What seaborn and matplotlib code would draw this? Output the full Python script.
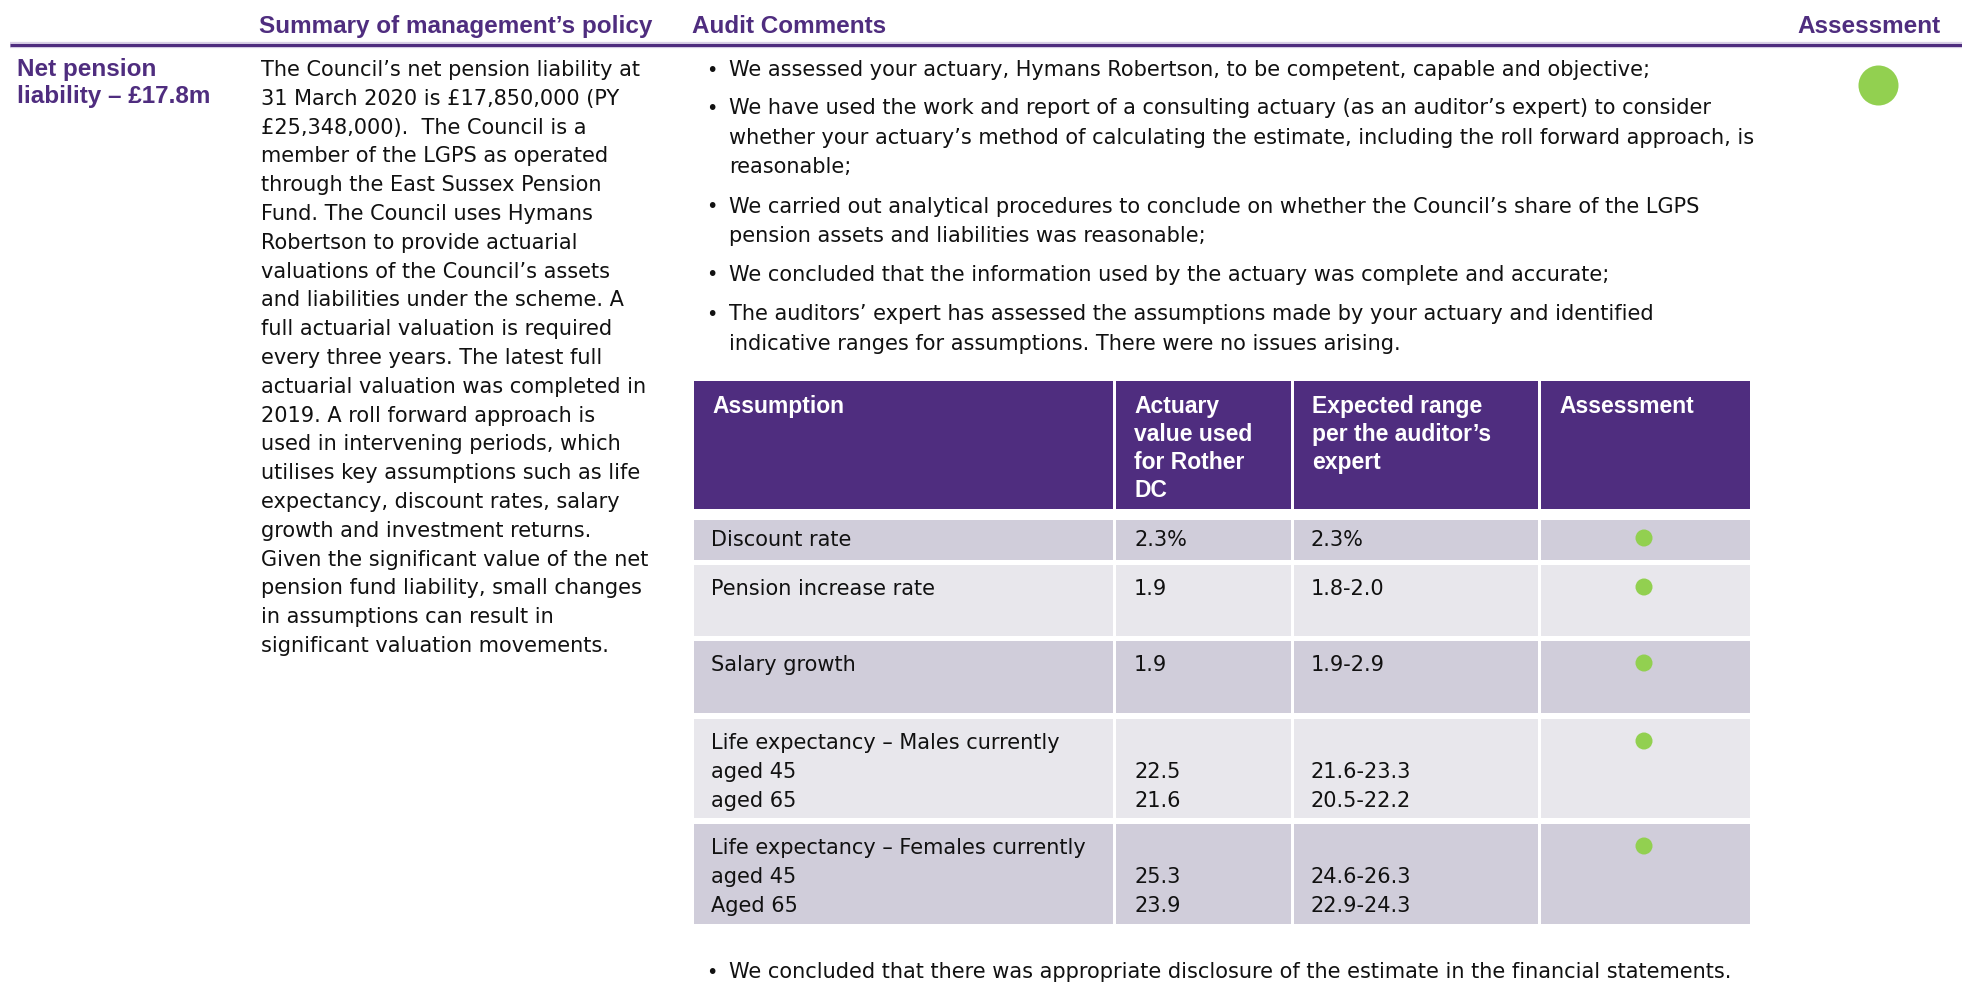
import matplotlib
matplotlib.use("Agg")
import matplotlib.pyplot as plt
from matplotlib.patches import Rectangle
import pandas as pd
import seaborn as sns

# ---- content ----
column_titles = ["Summary of management’s policy", "Audit Comments", "Assessment"]
item_label = ["Net pension", "liability – £17.8m"]

policy_lines = [
    "The Council’s net pension liability at",
    "31 March 2020 is £17,850,000 (PY",
    "£25,348,000).  The Council is a",
    "member of the LGPS as operated",
    "through the East Sussex Pension",
    "Fund. The Council uses Hymans",
    "Robertson to provide actuarial",
    "valuations of the Council’s assets",
    "and liabilities under the scheme. A",
    "full actuarial valuation is required",
    "every three years. The latest full",
    "actuarial valuation was completed in",
    "2019. A roll forward approach is",
    "used in intervening periods, which",
    "utilises key assumptions such as life",
    "expectancy, discount rates, salary",
    "growth and investment returns.",
    "Given the significant value of the net",
    "pension fund liability, small changes",
    "in assumptions can result in",
    "significant valuation movements.",
]

audit_bullets = [
    ["We assessed your actuary, Hymans Robertson, to be competent, capable and objective;"],
    ["We have used the work and report of a consulting actuary (as an auditor’s expert) to consider",
     "whether your actuary’s method of calculating the estimate, including the roll forward approach, is",
     "reasonable;"],
    ["We carried out analytical procedures to conclude on whether the Council’s share of the LGPS",
     "pension assets and liabilities was reasonable;"],
    ["We concluded that the information used by the actuary was complete and accurate;"],
    ["The auditors’ expert has assessed the assumptions made by your actuary and identified",
     "indicative ranges for assumptions. There were no issues arising."],
]
closing_bullet = "We concluded that there was appropriate disclosure of the estimate in the financial statements."
overall_rating = "green"

table_headers = [
    ["Assumption"],
    ["Actuary", "value used", "for Rother", "DC"],
    ["Expected range", "per the auditor’s", "expert"],
    ["Assessment"],
]
assumptions = [
    ["Discount rate"],
    ["Pension increase rate"],
    ["Salary growth"],
    ["Life expectancy – Males currently", "aged 45", "aged 65"],
    ["Life expectancy – Females currently", "aged 45", "Aged 65"],
]
actuary_values = [["2.3%"], ["1.9"], ["1.9"], ["", "22.5", "21.6"], ["", "25.3", "23.9"]]
expected_ranges = [["2.3%"], ["1.8-2.0"], ["1.9-2.9"],
                   ["", "21.6-23.3", "20.5-22.2"], ["", "24.6-26.3", "22.9-24.3"]]
assessments = ["green", "green", "green", "green", "green"]

# ---- style / layout ----
PURPLE = "#4F2D7F"
RAG = {"green": "#92D050"}
ROW_FILLS = ["#D0CDDA", "#E8E7EC"]
LINE = 28.8          # line pitch in px
BASE = 7             # baseline offset from line centre

sns.set_theme(style="white")
plt.rcParams["font.family"] = ["DejaVu Sans"]

W, H = 1962, 984
fig = plt.figure(figsize=(W / 100, H / 100), dpi=100)
ax = fig.add_axes([0, 0, 1, 1])
ax.set_xlim(0, W)
ax.set_ylim(H, 0)
ax.axis("off")


def lines_at(x, y0, lines, pitch=LINE, **kw):
    for i, s in enumerate(lines):
        ax.text(x, y0 + i * pitch + BASE, s, va="baseline", **kw)


body = dict(fontsize=15, color="#111111")
bold_font = ["Liberation Sans", "DejaVu Sans"]


def bullet(y):
    ax.text(712, y, "•", va="center", ha="center", fontsize=14, color="#111111")


# column titles + rule
title_kw = dict(fontsize=17.5, fontweight="bold", color=PURPLE, va="baseline", family=bold_font)
ax.text(259, 25 + 8, column_titles[0], **title_kw)
ax.text(692, 25 + 8, column_titles[1], **title_kw)
ax.text(1941, 25 + 8, column_titles[2], ha="right", **title_kw)
ax.plot([10, W], [45, 45], color="#D9D0E6", lw=4.5, solid_capstyle="butt")
ax.plot([10, W], [45, 45], color=PURPLE, lw=2.2, solid_capstyle="butt")

# row label
lines_at(17, 69, item_label, pitch=27, fontsize=17.5, fontweight="bold", color=PURPLE,
         family=bold_font)

# management policy paragraph
lines_at(261, 69, policy_lines, **body)

# audit comment bullets
bullet_y = [69, 107, 206, 274, 313]
for y, para in zip(bullet_y, audit_bullets):
    bullet(y + 1)
    lines_at(729, y, para, pitch=29.5, **body)
bullet(971 + 1)
ax.text(729, 971 + BASE, closing_bullet, va="baseline", **body)

# table
col_edges = [692, 1114, 1292, 1539, 1751]
head_top, head_bot = 381, 509
row_spans = [(518, 561), (563, 637), (639, 714), (717, 819), (822, 925)]
gap = 1.5

for j in range(4):
    x0, x1 = col_edges[j] + gap, col_edges[j + 1] - gap
    ax.add_patch(Rectangle((x0, head_top), x1 - x0, head_bot - head_top, color=PURPLE, lw=0))
    lines_at(x0 + 19, head_top + 25, table_headers[j], pitch=28, fontsize=16.5,
             fontweight="bold", color="white", family=bold_font)

dots = []
for i, (top, bot) in enumerate(row_spans):
    for j in range(4):
        x0, x1 = col_edges[j] + gap, col_edges[j + 1] - gap
        ax.add_patch(Rectangle((x0, top + gap), x1 - x0, bot - top - 2 * gap,
                               color=ROW_FILLS[i % 2], lw=0))
    ty = top + (21 if i == 0 else 25)
    lines_at(col_edges[0] + 19, ty, assumptions[i], **body)
    lines_at(col_edges[1] + 20, ty, actuary_values[i], **body)
    lines_at(col_edges[2] + 19, ty, expected_ranges[i], **body)
    dots.append({"x": (col_edges[3] + col_edges[4]) / 2 - 1, "y": ty - 1, "rating": assessments[i]})

dot_df = pd.DataFrame(dots)
sns.scatterplot(data=dot_df, x="x", y="y", hue="rating", palette=RAG, s=150,
                linewidth=0, legend=False, ax=ax, zorder=5)

overall = pd.DataFrame({"x": [1878], "y": [85], "rating": [overall_rating]})
sns.scatterplot(data=overall, x="x", y="y", hue="rating", palette=RAG, s=830,
                linewidth=0, legend=False, ax=ax, zorder=5)

ax.set_xlim(0, W)
ax.set_ylim(H, 0)
fig.savefig("out.png", dpi=100)
